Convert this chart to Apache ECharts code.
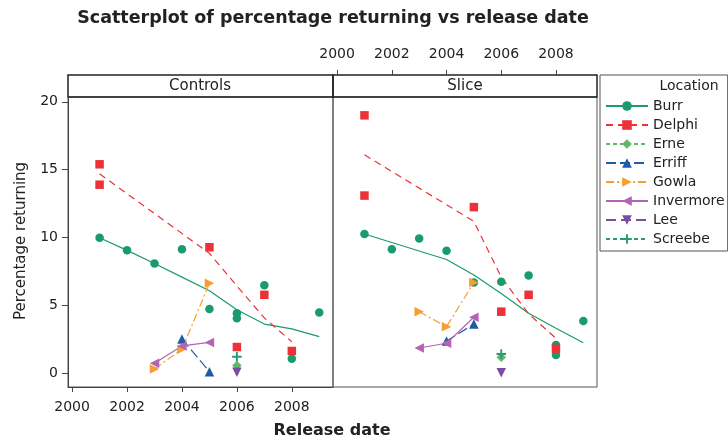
<!DOCTYPE html>
<html>
<head>
<meta charset="utf-8">
<script src="https://cdn.jsdelivr.net/npm/echarts@6/dist/echarts.min.js"></script>
<style>
  html, body { margin: 0; padding: 0; background: #fff; }
  #chart { width: 728px; height: 441px; }
</style>
</head>
<body>
<div id="chart"></div>
<script>
// tick labels
const yearTicks = [2000, 2002, 2004, 2006, 2008];
const pctTicks = [0, 5, 10, 15, 20];
const locations = ['Burr', 'Delphi', 'Erne', 'Erriff', 'Gowla', 'Invermore', 'Lee', 'Screebe'];

// Controls panel: [release year, percentage returning]
const burrCtrl = [[2001, 10.0], [2002, 9.07], [2003, 8.1], [2004, 9.15], [2005, 4.76], [2006, 4.44], [2006, 4.07], [2007, 6.5], [2008, 1.1], [2009, 4.5]];
const burrCtrlFit = [[2001, 10.0], [2002, 9.07], [2003, 8.1], [2004, 7.1], [2005, 6.1], [2006, 4.7], [2007, 3.65], [2008, 3.3], [2009, 2.72]];
const delphiCtrl = [[2001, 15.4], [2001, 13.9], [2005, 9.3], [2006, 1.96], [2007, 5.8], [2008, 1.67]];
const delphiCtrlFit = [[2001, 14.7], [2005, 8.85], [2006, 6.45], [2007, 4.1], [2008, 2.35]];
const erneCtrl = [[2006, 0.6]];
const erriffCtrl = [[2004, 2.55], [2005, 0.15]];
const gowlaCtrl = [[2003, 0.35], [2004, 1.8], [2005, 6.65]];
const invermoreCtrl = [[2003, 0.76], [2004, 2.04], [2005, 2.3]];
const leeCtrl = [[2006, 0.1]];
const screebeCtrl = [[2006, 1.25]];

// Slice panel
const burrSlice = [[2001, 10.27], [2002, 9.15], [2003, 9.95], [2004, 9.05], [2005, 6.7], [2006, 6.77], [2007, 7.23], [2008, 2.1], [2008, 1.37], [2009, 3.87]];
const burrSliceFit = [[2001, 10.27], [2004, 8.4], [2005, 7.26], [2006, 5.9], [2007, 4.44], [2008, 3.34], [2009, 2.28]];
const delphiSlice = [[2001, 19.0], [2001, 13.1], [2005, 12.25], [2006, 4.56], [2007, 5.8], [2008, 1.84]];
const delphiSliceFit = [[2001, 16.1], [2005, 11.2], [2006, 7.1], [2007, 4.4], [2008, 2.6]];
const erneSlice = [[2006, 1.2]];
const erriffSlice = [[2004, 2.4], [2005, 3.65]];
const gowlaSlice = [[2003, 4.56], [2004, 3.46], [2005, 6.7]];
const invermoreSlice = [[2003, 1.89], [2004, 2.24], [2005, 4.15]];
const leeSlice = [[2006, 0.07]];
const screebeSlice = [[2006, 1.45]];

const FONT = 'DejaVu Sans';

// look of each location: colour, marker, line dash
const styles = {
    Burr:      {color: '#1a9b6c', symbol: 'circle', size: 8.5, dash: 'solid'},
    Delphi:    {color: '#ec3237', symbol: 'rect', size: 8.5, dash: [7, 5]},
    Erne:      {color: '#62b86a', symbol: 'diamond', size: 9.5, dash: [4, 3]},
    Erriff:    {color: '#1e5ca8', symbol: 'triangle', size: 9.5, dash: [10, 4]},
    Gowla:     {color: '#f59e35', symbol: 'path://M0,0L10,5L0,10Z', size: 9.5, dash: [8, 3, 2, 3]},
    Invermore: {color: '#b463b5', symbol: 'path://M10,0L0,5L10,10Z', size: 9.5, dash: 'solid'},
    Lee:       {color: '#7b4f9f', symbol: 'path://M0,0L10,0L5,10Z', size: 9.5, dash: [10, 5]},
    Screebe:   {color: '#2a9b6b', symbol: 'path://M4,0H6V4H10V6H6V10H4V6H0V4H4Z', size: 9.5, dash: [4, 3]}
};

const points = {
    Burr: [burrCtrl, burrSlice], Delphi: [delphiCtrl, delphiSlice], Erne: [erneCtrl, erneSlice],
    Erriff: [erriffCtrl, erriffSlice], Gowla: [gowlaCtrl, gowlaSlice], Invermore: [invermoreCtrl, invermoreSlice],
    Lee: [leeCtrl, leeSlice], Screebe: [screebeCtrl, screebeSlice]
};
// lines: smoother for Burr/Delphi, joined points for the three-point groups
const lines = {
    Burr: [burrCtrlFit, burrSliceFit], Delphi: [delphiCtrlFit, delphiSliceFit], Erne: [[], []],
    Erriff: [erriffCtrl, erriffSlice], Gowla: [gowlaCtrl, gowlaSlice], Invermore: [invermoreCtrl, invermoreSlice],
    Lee: [[], []], Screebe: [[], []]
};

const series = [];
// line series first so the legend takes its icon from them
locations.forEach(function (name) {
    const s = styles[name];
    [0, 1].forEach(function (p) {
        series.push({
            name: name, type: 'line', xAxisIndex: p, yAxisIndex: p,
            data: lines[name][p], showSymbol: false, symbol: s.symbol, symbolSize: s.size,
            itemStyle: {color: s.color},
            lineStyle: {color: s.color, width: 1.2, type: s.dash},
            silent: true, animation: false, z: 2
        });
    });
});
locations.forEach(function (name) {
    const s = styles[name];
    [0, 1].forEach(function (p) {
        series.push({
            name: name, type: 'scatter', xAxisIndex: p, yAxisIndex: p,
            data: points[name][p], symbol: s.symbol, symbolSize: s.size,
            itemStyle: {color: s.color, opacity: 1},
            animation: false, z: 3
        });
    });
});

const tickLabel = {fontFamily: FONT, fontSize: 14, color: '#222', formatter: function (v) { return String(v); }};
const noAxis = {splitLine: {show: false}, axisLine: {show: false}, axisTick: {show: false}, axisLabel: {show: false}};

const chart = echarts.init(document.getElementById('chart'));
chart.setOption({
    animation: false,
    grid: [
        {left: 68, top: 97, width: 265, height: 290, show: true, borderColor: '#555', borderWidth: 1},
        {left: 333, top: 97, width: 264, height: 290, show: true, borderColor: '#555', borderWidth: 1},
        // strip above the Slice panel, carries the top year axis
        {left: 333, top: 75, width: 264, height: 22, show: false}
    ],
    xAxis: [
        Object.assign({type: 'value', gridIndex: 0, min: 1999.85, max: 2009.5}, {
            splitLine: {show: false},
            axisLine: {show: true, onZero: false, lineStyle: {color: '#444'}},
            axisTick: {show: true, length: 5, customValues: yearTicks, lineStyle: {color: '#444'}},
            axisLabel: Object.assign({margin: 13, customValues: yearTicks}, tickLabel)
        }),
        Object.assign({type: 'value', gridIndex: 1, min: 1999.85, max: 2009.5}, noAxis),
        {
            type: 'value', gridIndex: 2, min: 1999.85, max: 2009.5, position: 'top',
            splitLine: {show: false},
            axisLine: {show: false, onZero: false},
            axisTick: {show: true, length: 5, customValues: yearTicks, lineStyle: {color: '#444'}},
            axisLabel: Object.assign({margin: 14, customValues: yearTicks}, tickLabel)
        }
    ],
    yAxis: [
        {
            type: 'value', gridIndex: 0, min: -0.98, max: 20.35,
            splitLine: {show: false},
            axisLine: {show: true, onZero: false, lineStyle: {color: '#444'}},
            axisTick: {show: true, length: 6, customValues: pctTicks, lineStyle: {color: '#444'}},
            axisLabel: Object.assign({margin: 10, customValues: pctTicks}, tickLabel)
        },
        Object.assign({type: 'value', gridIndex: 1, min: -0.98, max: 20.35}, noAxis),
        Object.assign({type: 'value', gridIndex: 2, min: 0, max: 1}, noAxis)
    ],
    legend: {
        data: locations, orient: 'vertical', left: 600, top: 75,
        padding: [24, 3, 5, 5], itemGap: 5, itemWidth: 42, itemHeight: 12,
        borderColor: '#555', borderWidth: 1,
        textStyle: {fontFamily: FONT, fontSize: 14, color: '#222'}
    },
    graphic: [
        {type: 'text', style: {
            text: 'Scatterplot of percentage returning vs release date', x: 333, y: 18,
            textAlign: 'center', textVerticalAlign: 'middle',
            font: 'bold 17.5px "DejaVu Sans"', fill: '#222'}},
        {type: 'rect', shape: {x: 68, y: 75, width: 265, height: 22}, style: {fill: 'none', stroke: '#222', lineWidth: 1.5}},
        {type: 'rect', shape: {x: 333, y: 75, width: 264, height: 22}, style: {fill: 'none', stroke: '#222', lineWidth: 1.5}},
        {type: 'text', style: {text: 'Controls', x: 200, y: 86, textAlign: 'center', textVerticalAlign: 'middle',
            font: '15px "DejaVu Sans"', fill: '#222'}},
        {type: 'text', style: {text: 'Slice', x: 465, y: 86, textAlign: 'center', textVerticalAlign: 'middle',
            font: '15px "DejaVu Sans"', fill: '#222'}},
        {type: 'text', style: {text: 'Location', x: 689, y: 86, textAlign: 'center', textVerticalAlign: 'middle',
            font: '14px "DejaVu Sans"', fill: '#222'}},
        {type: 'text', style: {text: 'Release date', x: 332, y: 431, textAlign: 'center', textVerticalAlign: 'middle',
            font: 'bold 16px "DejaVu Sans"', fill: '#222'}},
        {type: 'text', rotation: Math.PI / 2, x: 21, y: 241, style: {text: 'Percentage returning', x: 0, y: 0,
            textAlign: 'center', textVerticalAlign: 'middle', font: '15px "DejaVu Sans"', fill: '#222'}}
    ],
    series: series
});
</script>
</body>
</html>
